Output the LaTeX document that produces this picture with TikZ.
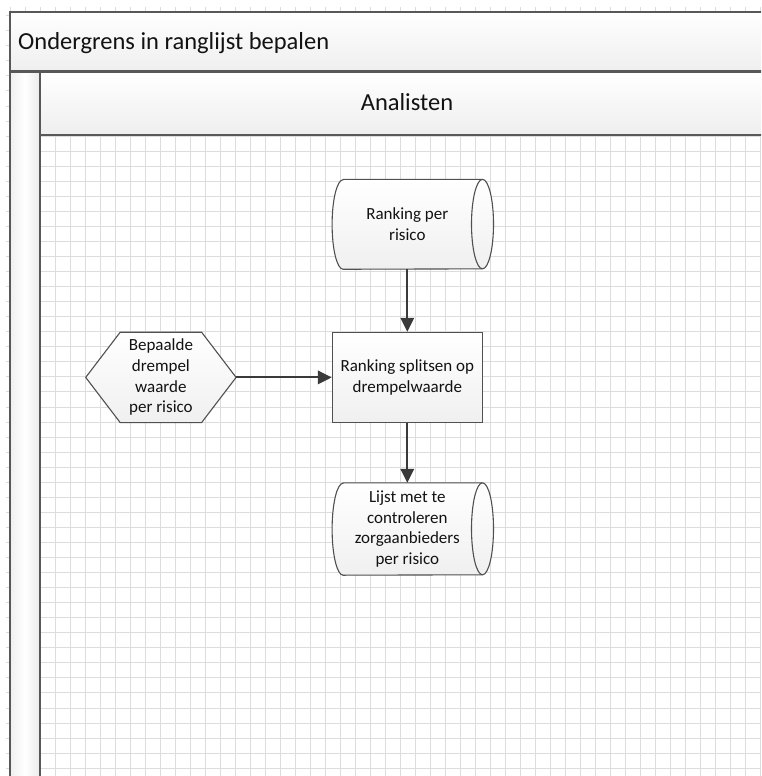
\documentclass[tikz,border=0pt]{standalone}
\usepackage{fontspec}
\setmainfont{Carlito}
\usetikzlibrary{arrows.meta,calc}
\definecolor{gridline}{RGB}{220,220,220}
\definecolor{frameline}{RGB}{88,88,88}
\definecolor{shapeline}{RGB}{80,80,80}
\definecolor{flowline}{RGB}{58,58,58}
\definecolor{textdark}{RGB}{18,18,18}
\pgfdeclarelayer{bg}
\pgfsetlayers{bg,main}
% outline of a "stored data" shape around a named node: #1 node, #2 half height
\newcommand\datastore[2]{%
  \path[outline] ($(#1.north west)+(11,0)$) -- (#1.north east)
    arc[start angle=90,end angle=-90,x radius=11pt,y radius=#2pt]
    -- ($(#1.south west)+(11,0)$)
    arc[start angle=270,end angle=90,x radius=11pt,y radius=#2pt] -- cycle;
  \draw[draw=shapeline,line width=1.1pt] (#1.north east)
    arc[start angle=90,end angle=270,x radius=11pt,y radius=#2pt];}
\begin{document}
\begin{tikzpicture}[x=1pt,y=1pt,
  lbl/.style={font=\fontsize{17}{20.7}\selectfont, text=textdark, align=center, inner sep=0pt},
  slot/.style={lbl, rectangle, minimum width=150pt},
  outline/.style={draw=shapeline, line width=1.1pt, top color=white, bottom color=gray!12},
  flow/.style={draw=flowline, line width=2.1pt, -{Triangle[length=14pt,width=13.5pt]}},
  band/.style={top color=white, bottom color=gray!13},
  border/.style={draw=frameline, line width=2pt},
  heading/.style={font=\fontsize{24.5}{29}\selectfont, text=textdark, inner sep=0pt}]

\useasboundingbox (0,0) rectangle (761,-776);

\begin{pgfonlayer}{bg}
\begin{scope}
  \clip (0,0) rectangle (761,-776);
  % page grid
  \foreach \i in {0,...,50}
    \draw[gridline, line width=0.9pt] (10+15*\i,-7) -- (10+15*\i,-776);
  \foreach \j in {1,...,51}
    \draw[gridline, line width=0.9pt] (6,-0.6-15.05*\j) -- (761,-0.6-15.05*\j);
  % pool and lane frame
  \shade[band] (10,-12) rectangle (790,-71.5);
  \shade[band] (40,-71.5) rectangle (790,-134.5);
  \shade[left color=gray!12, right color=gray!16, middle color=white] (10,-71.5) rectangle (40,-790);
  \draw[border] (790,-12) -- (10,-12) -- (10,-790);
  \draw[border] (10,-71.5) -- (790,-71.5);
  \draw[border] (40,-71.5) -- (40,-790);
  \draw[border] (40,-134.5) -- (790,-134.5);
\end{scope}
\end{pgfonlayer}

% headings
\node[heading, anchor=base west] (pool) at (18,-50) {Ondergrens in ranglijst bepalen};
\node[heading, anchor=base] (lane) at (407,-110.5) {Analisten};

% flow elements
\node[slot, minimum height=89.5pt] (rank) at (407.3,-224.3) {Ranking per\\risico};
\node[slot, outline, minimum height=90pt] (split) at (407.3,-377.3) {Ranking splitsen op\\drempelwaarde};
\node[slot, minimum height=92pt] (list) at (407.3,-529) {Lijst met te\\controleren\\zorgaanbieders\\per risico};
\node[slot, minimum height=90pt] (thr) at (160.9,-377.4) {Bepaalde\\drempel\\waarde\\per risico};

\begin{pgfonlayer}{bg}
  \datastore{rank}{44.75}
  \datastore{list}{46}
  \path[outline] (thr.west) -- ($(thr.north west)+(34.5,0)$) -- ($(thr.north east)+(-34.5,0)$)
    -- (thr.east) -- ($(thr.south east)+(-34.5,0)$) -- ($(thr.south west)+(34.5,0)$) -- cycle;
\end{pgfonlayer}

% connectors
\draw[flow] (rank.south) -- (split.north);
\draw[flow] (thr.east) -- (thr.east -| split.west);
\draw[flow] (split.south) -- (list.north);
\end{tikzpicture}
\end{document}
